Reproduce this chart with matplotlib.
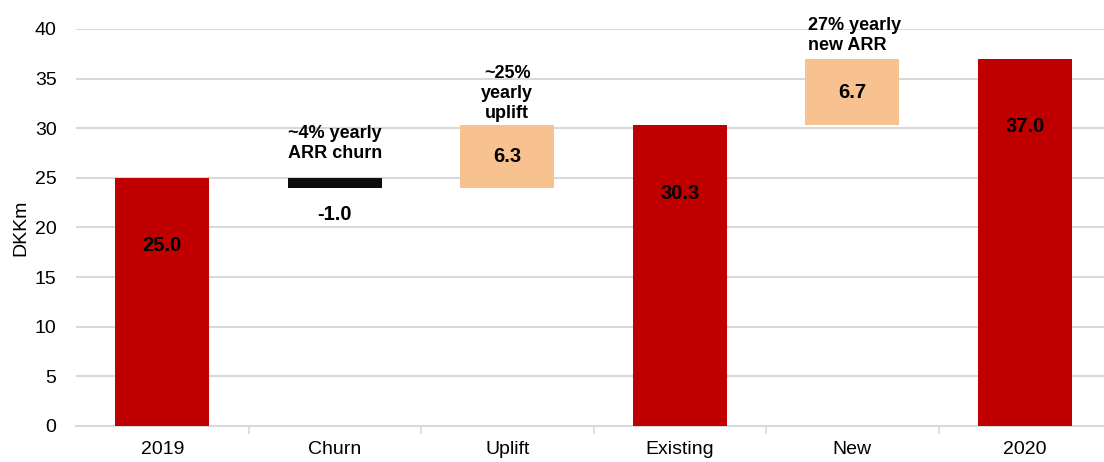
import matplotlib
matplotlib.use("Agg")
import matplotlib.pyplot as plt
import numpy as np

plt.rcParams['font.family'] = ['Liberation Sans', 'DejaVu Sans']

categories = ["2019", "Churn", "Uplift", "Existing", "New", "2020"]
values = [25.0, -1.0, 6.3, 30.3, 6.7, 37.0]
kinds = ["total", "delta", "delta", "total", "delta", "total"]
notes = ["", "~4% yearly\nARR churn", "~25%\nyearly\nuplift", "", "27% yearly\nnew ARR", ""]

RED = "#C00000"
PEACH = "#F8C190"
BLACK = "#0D0D0D"

fig = plt.figure(figsize=(11.04, 4.62), dpi=100)
ax = fig.add_axes([76 / 1104, 36 / 462, 1035 / 1104, 397 / 462])

x = np.arange(len(categories))
width = 0.545

running = 0.0
for i, (v, k) in enumerate(zip(values, kinds)):
    prev = running
    if k == "total":
        bottom, height = 0.0, v
        color = RED
        running = v
    else:
        if v < 0:
            bottom, height = running + v, -v
            color = BLACK
        else:
            bottom, height = running, v
            color = PEACH
        running += v
    ax.bar(x[i], height, width, bottom=bottom, color=color, zorder=3)

    # value labels
    if k == "total":
        ax.text(x[i], v - 6.85, f"{v:.1f}", ha="center", va="center",
                fontsize=14.5, fontweight="bold", color="black", zorder=4)
    elif v < 0:
        ax.text(x[i], bottom - 2.7, f"{v:.1f}", ha="center", va="center",
                fontsize=14.5, fontweight="bold", color="black", zorder=4)
    else:
        ax.text(x[i], bottom + height / 2, f"{v:.1f}", ha="center", va="center",
                fontsize=14.5, fontweight="bold", color="black", zorder=4)

    # commentary above the step bars
    if notes[i]:
        top = max(prev, bottom + height)
        if v < 0:
            ax.text(x[i], top + 2.0, notes[i], ha="center", va="baseline",
                    fontsize=13, fontweight="bold", linespacing=1.22, zorder=4)
        elif i == 4:
            ax.text(x[i] - width / 2 + 0.015, top + 0.9, notes[i], ha="left",
                    va="baseline", fontsize=13, fontweight="bold",
                    linespacing=1.22, zorder=4)
        else:
            ax.text(x[i], top + 0.75, notes[i], ha="center", va="baseline",
                    fontsize=13, fontweight="bold", linespacing=1.22, zorder=4)

ax.set_xlim(-0.5, len(categories) - 0.5)
ax.set_ylim(0, 40)
ax.set_yticks(np.arange(0, 41, 5))
ax.yaxis.grid(True, color="#D9D9D9", linewidth=1.5, zorder=0)
ax.set_axisbelow(True)

ax.set_xticks(x)
ax.set_xticklabels(categories, fontsize=14)
ax.set_xticks(np.arange(0.5, len(categories) - 0.5, 1), minor=True)
ax.tick_params(axis="x", which="major", length=0, pad=11)
ax.tick_params(axis="x", which="minor", length=6, color="#D9D9D9", width=1.2)
ax.tick_params(axis="y", length=0, labelsize=14, pad=14)

for s in ["top", "right", "left"]:
    ax.spines[s].set_visible(False)
ax.spines["bottom"].set_color("#D9D9D9")
ax.spines["bottom"].set_linewidth(1.5)

ax.set_ylabel("DKKm", fontsize=14, labelpad=4)

fig.savefig("out.png", dpi=100)
